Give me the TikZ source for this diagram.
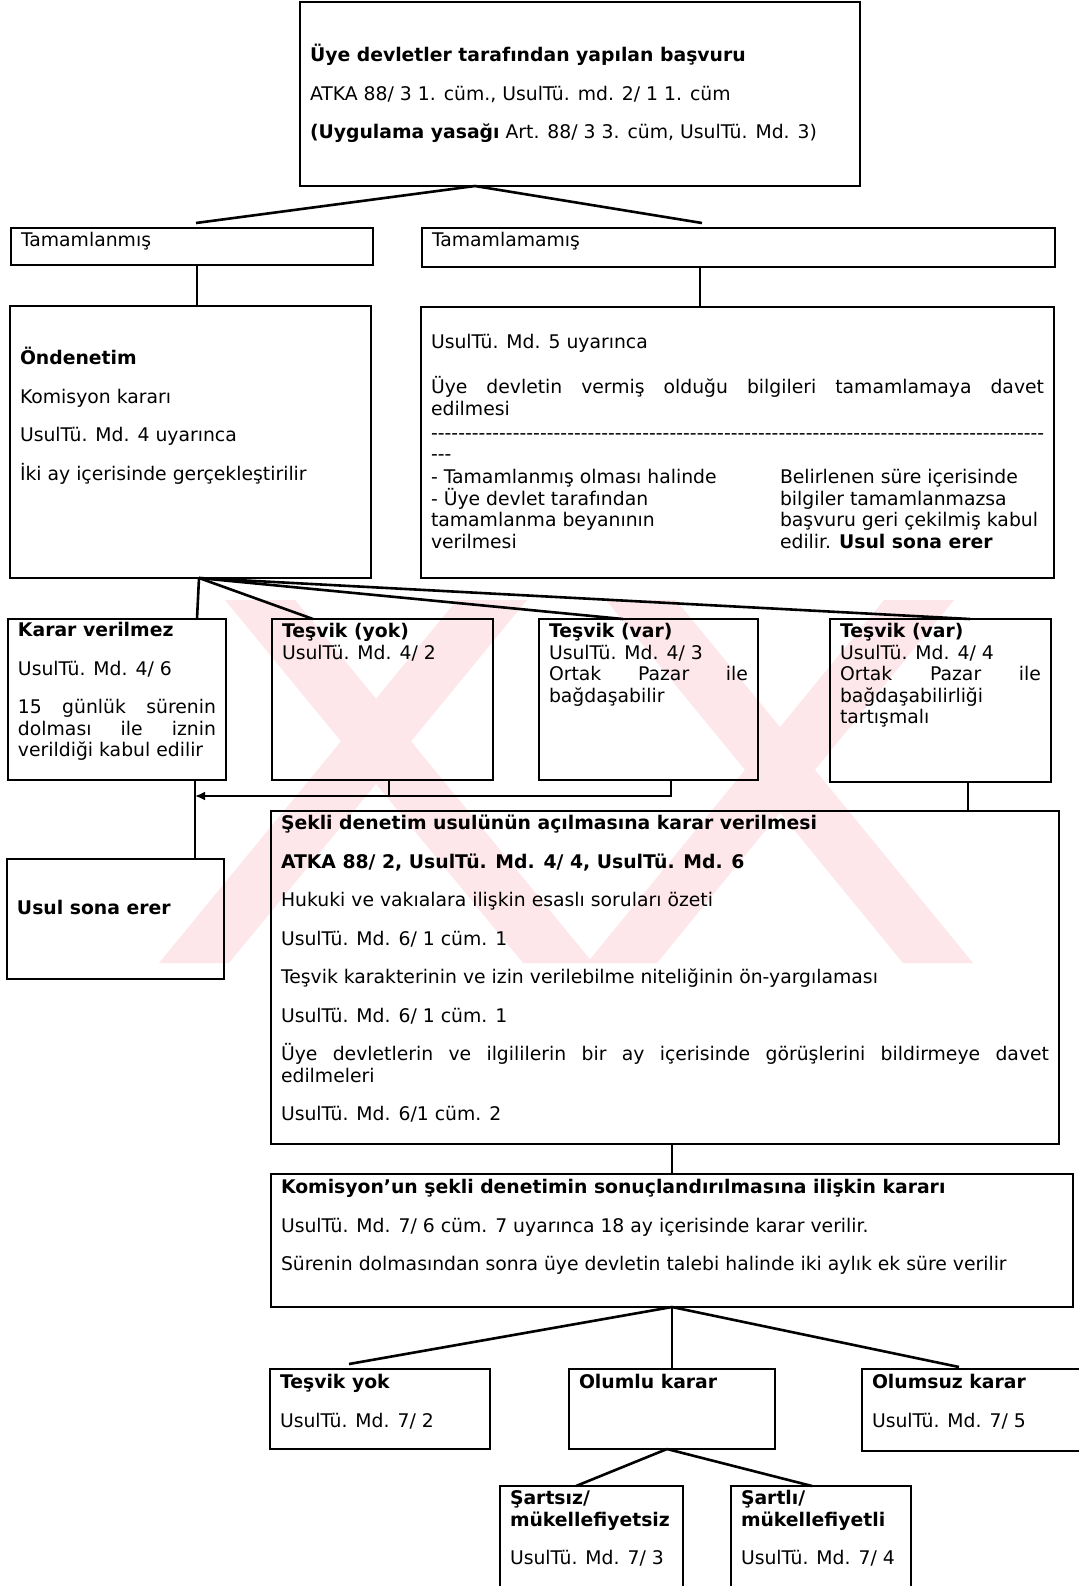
\documentclass[tikz,border=0pt]{standalone}
\usepackage{fontspec}
\setmainfont{DejaVu Sans}
\usetikzlibrary{arrows.meta,calc}
\definecolor{wmpink}{RGB}{254,231,235}
\newlength\pxl
\setlength\pxl{0.5pt}
\hyphenpenalty=10000
\exhyphenpenalty=10000
% text block inside a box: width, height, offset of first line (in px), text
\newcommand{\boxtext}[4]{%
  \begin{minipage}[t][#2\pxl][t]{\dimexpr#1\pxl-20\pxl\relax}
    \lineskiplimit=-20pt
    \setlength\parskip{17\pxl}%
    \vspace*{#3\pxl}%
    \strut#4%
  \end{minipage}}

\begin{document}
\begin{tikzpicture}[
  x=0.5pt,y=-0.5pt,
  every node/.style={font=\fontsize{9.4}{10.75}\selectfont},
  panel/.style={draw,line width=1pt,anchor=north west,inner xsep=5pt,inner ysep=0pt,outer sep=0pt},
  link/.style={line width=1.3pt},
]
  \useasboundingbox (0,0) rectangle (1079,1586);
  \fill[white] (0,0) rectangle (1079,1586);

  % Watermark
  \begin{scope}
    \clip (0,600) rectangle (1040,963);
    \fill[wmpink] (225,600) -- (295,600) -- (593,963) -- (523,963) -- cycle;
    \fill[wmpink] (457,600) -- (527,600) -- (229,963) -- (159,963) -- cycle;
    \fill[wmpink] (606,600) -- (676,600) -- (973,963) -- (903,963) -- cycle;
    \fill[wmpink] (884,600) -- (954,600) -- (657,963) -- (587,963) -- cycle;
  \end{scope}

  % Application
  \node[panel] (top) at (300,2) {\boxtext{560}{184}{42.5}{%
    \textbf{Üye devletler tarafından yapılan başvuru}\par
    ATKA 88/ 3 1. cüm., UsulTü. md. 2/ 1 1. cüm\par
    \textbf{(Uygulama yasağı} Art. 88/ 3 3. cüm, UsulTü. Md. 3)}};

  % Complete / incomplete
  \node[panel] (tam1) at (11,228) {\boxtext{362}{37}{3.5}{Tamamlanmış}};
  \node[panel] (tam2) at (422,228) {\boxtext{633}{39}{3.5}{Tamamlamamış}};

  \node[panel] (onden) at (10,306) {\boxtext{361}{272}{41.5}{%
    \textbf{Öndenetim}\par
    Komisyon kararı\par
    UsulTü. Md. 4 uyarınca\par
    İki ay içerisinde gerçekleştirilir}};

  \node[panel] (md5) at (421,307) {\boxtext{633}{271}{26.5}{%
    UsulTü. Md. 5 uyarınca\par
    \vspace{6.5\pxl}Üye devletin vermiş olduğu bilgileri tamamlamaya davet\linebreak edilmesi\par
    \vspace{2.5\pxl}\hbox to\linewidth{\xleaders\hbox{-}\hfill}
    \vspace{-17\pxl}-{}-{}-\par
    \vspace{-15.5\pxl}\noindent
    \begin{minipage}[t]{340\pxl}
      - Tamamlanmış olması halinde\\
      - Üye devlet tarafından\\
      tamamlanma beyanının\\
      verilmesi
    \end{minipage}\hfill
    \begin{minipage}[t]{264\pxl}
      Belirlenen süre içerisinde\\
      bilgiler tamamlanmazsa\\
      başvuru geri çekilmiş kabul\\
      edilir. \textbf{Usul sona erer}
    \end{minipage}}};

  % Decisions of the preliminary examination
  \node[panel] (karar) at (8,619) {\boxtext{218}{161}{2.5}{%
    \textbf{Karar verilmez}\par
    UsulTü. Md. 4/ 6\par
    15 günlük sürenin\linebreak dolması ile iznin\linebreak verildiği kabul edilir}};
  \node[panel] (tyok) at (272,619) {\boxtext{221}{161}{3.5}{%
    \textbf{Teşvik (yok)}\\ UsulTü. Md. 4/ 2}};
  \node[panel] (tvar3) at (539,619) {\boxtext{219}{161}{3.5}{%
    \textbf{Teşvik (var)}\\ UsulTü. Md. 4/ 3\\ Ortak Pazar ile\linebreak bağdaşabilir}};
  \node[panel] (tvar4) at (830,619) {\boxtext{221}{163}{3.5}{%
    \textbf{Teşvik (var)}\\ UsulTü. Md. 4/ 4\\ Ortak Pazar ile\linebreak bağdaşabilirliği\\ tartışmalı}};

  \node[panel] (usul) at (7,859) {\boxtext{217}{120}{40.5}{\textbf{Usul sona erer}}};

  % Formal examination
  \node[panel] (sekli) at (271,811) {\boxtext{788}{333}{3.5}{%
    \textbf{Şekli denetim usulünün açılmasına karar verilmesi}\par
    \textbf{ATKA 88/ 2, UsulTü. Md. 4/ 4, UsulTü. Md. 6}\par
    Hukuki ve vakıalara ilişkin esaslı soruları özeti\par
    UsulTü. Md. 6/ 1 cüm. 1\par
    Teşvik karakterinin ve izin verilebilme niteliğinin ön-yargılaması\par
    UsulTü. Md. 6/ 1 cüm. 1\par
    Üye devletlerin ve ilgililerin bir ay içerisinde görüşlerini bildirmeye davet\linebreak edilmeleri\par
    UsulTü. Md. 6/1 cüm. 2}};

  \node[panel] (komis) at (271,1174) {\boxtext{802}{133}{4.5}{%
    \textbf{Komisyon’un şekli denetimin sonuçlandırılmasına ilişkin kararı}\par
    UsulTü. Md. 7/ 6 cüm. 7 uyarınca 18 ay içerisinde karar verilir.\par
    Sürenin dolmasından sonra üye devletin talebi halinde iki aylık ek süre verilir}};

  % Final decisions
  \node[panel] (tyok2) at (270,1369) {\boxtext{220}{80}{4.5}{%
    \textbf{Teşvik yok}\par UsulTü. Md. 7/ 2}};
  \node[panel] (olumlu) at (569,1369) {\boxtext{206}{80}{4.5}{\textbf{Olumlu karar}}};
  \node[panel] (olumsuz) at (862,1369) {\boxtext{230}{82}{4.5}{%
    \textbf{Olumsuz karar}\par UsulTü. Md. 7/ 5}};
  \node[panel] (sartsiz) at (500,1486) {\boxtext{183}{110}{3.5}{%
    \textbf{Şartsız/\\ mükellefiyetsiz}\par UsulTü. Md. 7/ 3}};
  \node[panel] (sartli) at (731,1486) {\boxtext{180}{110}{3.5}{%
    \textbf{Şartlı/\\ mükellefiyetli}\par UsulTü. Md. 7/ 4}};

  % Connectors
  \coordinate (ap1) at ($(top.south west)+(175,0)$);
  \draw[link] (ap1) -- ($(tam1.north west)+(185,-5)$);
  \draw[link] (ap1) -- ($(tam2.north west)+(280,-5)$);
  \coordinate (d1) at ($(tam1.south west)+(186,0)$);
  \draw[link] (d1) -- (d1 |- onden.north);
  \coordinate (d2) at ($(tam2.south west)+(278,0)$);
  \draw[link] (d2) -- (d2 |- md5.north);

  \coordinate (ap2) at ($(onden.south west)+(189,0)$);
  \draw[link] (ap2) -- ($(karar.north west)+(189,0)$);
  \draw[link] (ap2) -- ($(tyok.north west)+(41,0)$);
  \draw[link] (ap2) -- ($(tvar3.north west)+(84,0)$);
  \draw[link] (ap2) -- ($(tvar4.north west)+(140,0)$);

  \coordinate (d3) at ($(karar.south west)+(187,0)$);
  \draw[link] (d3) -- (d3 |- usul.north);
  \coordinate (fb) at ($(d3)+(0,16)$);
  \draw[link] ($(tyok.south west)+(117,0)$) -- ++(0,16);
  \draw[link,-{Latex[length=5pt,width=4.5pt]}] ($(tvar3.south west)+(132,0)$) |- (fb);

  \coordinate (d4) at ($(tvar4.south west)+(138,0)$);
  \draw[link] (d4) -- (d4 |- sekli.north);
  \coordinate (d5) at ($(sekli.south west)+(401,0)$);
  \draw[link] (d5) -- (d5 |- komis.north);

  \coordinate (ap3) at ($(komis.south west)+(401,0)$);
  \draw[link] (ap3) -- ($(tyok2.north west)+(79,-5)$);
  \draw[link] (ap3) -- (ap3 |- olumlu.north);
  \draw[link] (ap3) -- ($(olumsuz.north west)+(97,-2)$);

  \coordinate (ap4) at ($(olumlu.south west)+(98,0)$);
  \draw[link] (ap4) -- ($(sartsiz.north west)+(76,0)$);
  \draw[link] (ap4) -- ($(sartli.north west)+(81,0)$);
\end{tikzpicture}
\end{document}
